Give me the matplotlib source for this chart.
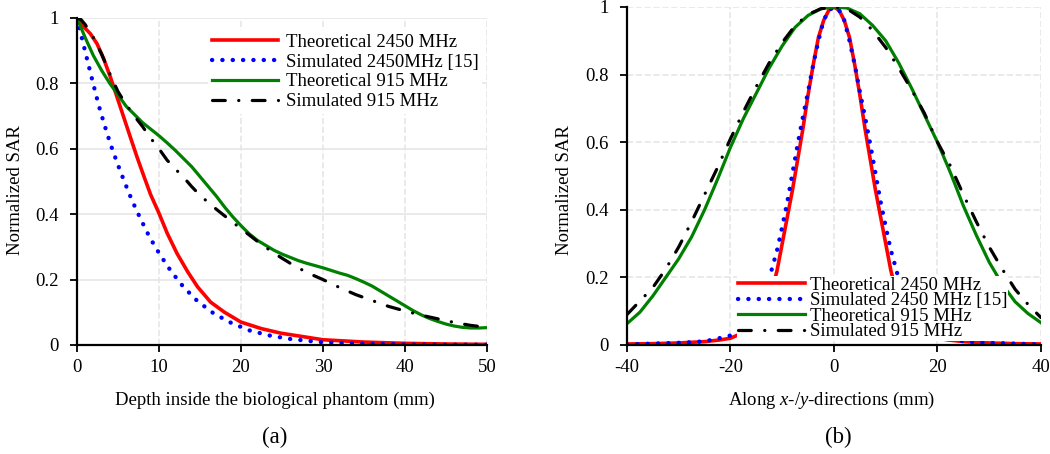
import numpy as np
import matplotlib
matplotlib.use("Agg")
import matplotlib.pyplot as plt

plt.rcParams['font.family'] = ['Liberation Serif', 'DejaVu Serif']
plt.rcParams['mathtext.fontset'] = 'custom'
plt.rcParams['mathtext.rm'] = 'Liberation Serif'
plt.rcParams['mathtext.it'] = 'Liberation Serif:italic'
plt.rcParams['axes.unicode_minus'] = False

# ---- (a) SAR vs depth ----
depth_theo2450 = [0, 0.82, 1.63, 2.45, 3.26, 4.08, 4.9, 5.71, 6.53, 7.35, 8.16, 8.98, 10, 11, 12.2,
                  13.5, 14.7, 16.3, 18, 20, 22.5, 24.9, 30, 35, 40, 45, 50]
sar_theo2450 = [1.0, 0.973, 0.952, 0.921, 0.875, 0.819, 0.757, 0.696, 0.634, 0.573, 0.516, 0.46, 0.403,
                0.342, 0.28, 0.224, 0.178, 0.131, 0.1, 0.07, 0.05, 0.036, 0.016, 0.009, 0.005, 0.003, 0.002]

depth_sim2450 = [0, 0.82, 1.43, 2.04, 2.65, 3.34, 4.08, 4.9, 5.79, 6.73, 7.75, 8.85, 10.1, 11.46, 12.97,
                 14.7, 16.7, 18.85, 21.1, 23.5, 26.1, 30, 35, 40, 45, 50]
sar_sim2450 = [1.0, 0.916, 0.854, 0.793, 0.733, 0.674, 0.615, 0.557, 0.499, 0.441, 0.386, 0.33, 0.277,
               0.226, 0.178, 0.134, 0.096, 0.067, 0.044, 0.029, 0.018, 0.008, 0.004, 0.002, 0.001, 0.001]

depth_theo915 = list(range(0, 51))
sar_theo915 = [1.0, 0.94, 0.885, 0.84, 0.8, 0.765, 0.73, 0.705, 0.68, 0.66, 0.64, 0.618, 0.595, 0.57,
               0.545, 0.515, 0.485, 0.455, 0.422, 0.392, 0.365, 0.34, 0.32, 0.305, 0.29, 0.278, 0.268,
               0.258, 0.25, 0.243, 0.236, 0.228, 0.22, 0.213, 0.203, 0.192, 0.18, 0.165, 0.15, 0.135,
               0.12, 0.105, 0.092, 0.081, 0.072, 0.064, 0.058, 0.054, 0.052, 0.052, 0.053]

depth_sim915 = [0, 0.5, 1, 2, 3, 4, 5, 6, 7, 8, 9, 10, 11, 12, 13, 14, 15, 16, 17, 18, 19, 20, 22, 24,
                26, 28, 30, 32, 34, 36, 38, 40, 42, 44, 46, 48, 50]
sar_sim915 = [1.0, 0.995, 0.98, 0.94, 0.89, 0.83, 0.775, 0.735, 0.7, 0.668, 0.632, 0.6, 0.565, 0.538,
              0.513, 0.484, 0.458, 0.436, 0.415, 0.395, 0.375, 0.356, 0.317, 0.281, 0.25, 0.222, 0.2,
              0.176, 0.154, 0.136, 0.118, 0.104, 0.091, 0.08, 0.069, 0.06, 0.054]

# ---- (b) SAR along x/y ----
pos_theo2450 = [-40, -35, -30, -25, -22, -20, -17, -15, -13, -12, -11, -10, -9, -8, -7, -6, -5, -4, -3,
                -2, -1, 0, 1, 2, 3, 4, 5, 6, 7, 8, 9, 10, 11, 12, 13, 15, 17, 20, 22, 25, 30, 35, 40]
xy_theo2450 = [0.003, 0.004, 0.006, 0.01, 0.015, 0.02, 0.04, 0.065, 0.11, 0.16, 0.22, 0.3, 0.38, 0.46,
               0.55, 0.64, 0.74, 0.83, 0.91, 0.96, 0.99, 1.0, 0.99, 0.96, 0.91, 0.83, 0.74, 0.64, 0.55,
               0.46, 0.38, 0.3, 0.22, 0.16, 0.11, 0.065, 0.04, 0.02, 0.015, 0.01, 0.006, 0.004, 0.003]

pos_sim2450 = [-40, -37, -33, -29, -25, -23, -20, -17, -15, -13, -12, -11, -10, -9, -8, -7, -6, -5, -4,
               -3, -2, -1, 0, 1, 2, 3, 4, 5, 6, 7, 8, 9, 10, 11, 12, 13, 15, 17, 20, 23, 25, 29, 33,
               37, 40]
xy_sim2450 = [0.002, 0.003, 0.005, 0.007, 0.011, 0.017, 0.028, 0.05, 0.09, 0.165, 0.225, 0.28, 0.35,
              0.425, 0.51, 0.595, 0.675, 0.75, 0.83, 0.9, 0.96, 0.99, 1.0, 0.99, 0.96, 0.9, 0.83, 0.75,
              0.675, 0.595, 0.51, 0.425, 0.35, 0.28, 0.225, 0.165, 0.09, 0.05, 0.028, 0.017, 0.011,
              0.007, 0.005, 0.003, 0.002]

pos_theo915 = [-40, -37.5, -35, -32.5, -30, -27.5, -25, -22.5, -20, -17.5, -15, -12.5, -10, -7.5, -5,
               -2.5, 0, 2.5, 5, 7.5, 10, 12.5, 15, 17.5, 20, 22.5, 25, 27.5, 30, 32.5, 35, 37.5, 40]
xy_theo915 = [0.063, 0.097, 0.145, 0.2, 0.255, 0.32, 0.4, 0.49, 0.585, 0.67, 0.745, 0.82, 0.885, 0.94,
              0.975, 0.995, 1.0, 0.997, 0.98, 0.945, 0.9, 0.835, 0.76, 0.68, 0.6, 0.51, 0.412, 0.325,
              0.245, 0.18, 0.128, 0.093, 0.066]

pos_sim915 = [-40, -37.5, -35, -32.5, -30, -27.5, -25, -22.5, -20, -17.5, -15, -12.5, -10, -7.5, -5,
              -2.5, 0, 2.5, 5, 7.5, 10, 12.5, 15, 17.5, 20, 22.5, 25, 27.5, 30, 32.5, 35, 37.5, 40]
xy_sim915 = [0.09, 0.13, 0.17, 0.225, 0.29, 0.365, 0.445, 0.525, 0.61, 0.69, 0.765, 0.835, 0.895,
             0.945, 0.978, 0.995, 1.0, 0.995, 0.97, 0.93, 0.88, 0.82, 0.755, 0.685, 0.6, 0.53, 0.445,
             0.365, 0.29, 0.225, 0.165, 0.12, 0.081]

labels_a = ["Theoretical 2450 MHz", "Simulated 2450MHz [15]", "Theoretical 915 MHz", "Simulated 915 MHz"]
labels_b = ["Theoretical 2450 MHz", "Simulated 2450 MHz [15]", "Theoretical 915 MHz", "Simulated 915 MHz"]

fs = 13.5

fig = plt.figure(figsize=(10.5, 4.54), dpi=100)
ax1 = fig.add_axes([0.0733, 0.2401, 0.3905, 0.7203])
ax2 = fig.add_axes([0.5971, 0.2401, 0.3943, 0.7445])


def draw(ax, series, labels):
    styles = [
        dict(color='#ff0000', lw=2.6, ls='-'),
        dict(color='#0000ff', lw=3.1, ls=(0, (0.05, 2.35)), dash_capstyle='round'),
        dict(color='#008000', lw=2.3, ls='-'),
        dict(color='black', lw=2.3, ls=(0, (4, 4.2, 0.05, 4.2)), dash_capstyle='round'),
    ]
    for (x, y), st, lab in zip(series, styles, labels):
        ax.plot(x, y, label=lab, **st)
    for s in ['top', 'right']:
        ax.spines[s].set_visible(False)
    for s in ['left', 'bottom']:
        ax.spines[s].set_linewidth(1.6)
    ax.tick_params(direction='out', length=5, width=1.3, labelsize=fs)
    ax.tick_params(axis='x', pad=5)
    ax.tick_params(axis='y', pad=8)
    ax.set_ylim(0, 1)
    ax.set_yticks([0, 0.2, 0.4, 0.6, 0.8, 1])
    ax.set_yticklabels(["0", "0.2", "0.4", "0.6", "0.8", "1"])


draw(ax1, [(depth_theo2450, sar_theo2450), (depth_sim2450, sar_sim2450),
           (depth_theo915, sar_theo915), (depth_sim915, sar_sim915)], labels_a)
ax1.set_xlim(0, 50)
ax1.set_xticks([0, 10, 20, 30, 40, 50])
ax1.grid(axis='y', color='#e6e6e6', lw=1.2, ls='-')
ax1.grid(axis='x', color='#e6e6e6', lw=1.2, ls='--')
ax1.set_axisbelow(True)
ax1.set_xlabel("Depth inside the biological phantom (mm)", fontsize=fs)
ax1.set_ylabel("Normalized SAR", fontsize=fs)
ax1.xaxis.set_label_coords(0.482, -0.168)
ax1.xaxis.label.set_va('center')
ax1.yaxis.set_label_coords(-0.151, 0.474)
ax1.yaxis.label.set_va('center')
ax1.legend(loc='center', bbox_to_anchor=(0.654, 0.835), fontsize=fs, frameon=True,
           facecolor='white', edgecolor='none', framealpha=1, fancybox=False,
           handlelength=3.57, handletextpad=0.4, labelspacing=0.14, borderpad=0.2)

draw(ax2, [(pos_theo2450, xy_theo2450), (pos_sim2450, xy_sim2450),
           (pos_theo915, xy_theo915), (pos_sim915, xy_sim915)], labels_b)
ax2.set_xlim(-40, 40)
ax2.set_xticks([-40, -20, 0, 20, 40])
ax2.grid(color='#e6e6e6', lw=1.2, ls='--')
ax2.set_axisbelow(True)
ax2.set_xlabel("Along $x$-/$y$-directions (mm)", fontsize=fs)
ax2.set_ylabel("Normalized SAR", fontsize=fs)
ax2.xaxis.set_label_coords(0.494, -0.163)
ax2.xaxis.label.set_va('center')
ax2.yaxis.set_label_coords(-0.15, 0.459)
ax2.yaxis.label.set_va('center')
ax2.legend(loc='center', bbox_to_anchor=(0.594, 0.108), fontsize=fs, frameon=True,
           facecolor='white', edgecolor='none', framealpha=1, fancybox=False,
           handlelength=3.57, handletextpad=0.3, labelspacing=-0.085, borderpad=0.02)

fig.text(275 / 1050, 1 - 437 / 454, "(a)", fontsize=16.5, ha='center', va='center')
fig.text(838 / 1050, 1 - 437 / 454, "(b)", fontsize=16.5, ha='center', va='center')

fig.savefig("out.png", dpi=100)
